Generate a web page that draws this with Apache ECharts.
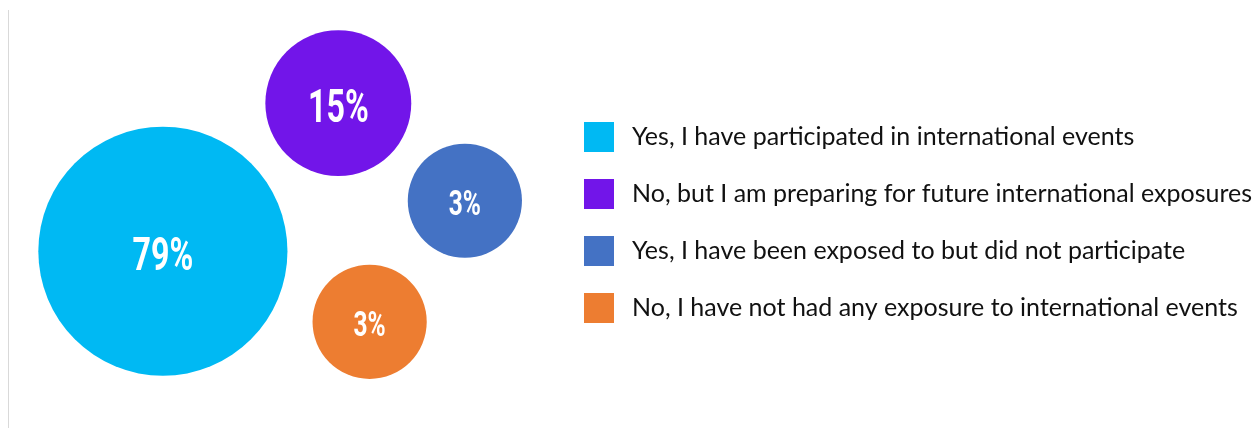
<!DOCTYPE html>
<html>
<head>
<meta charset="utf-8">
<script src="https://cdn.jsdelivr.net/npm/echarts@6/dist/echarts.min.js"></script>
<style>
  html, body { margin: 0; padding: 0; background: #fff; }
  #chart { width: 1253px; height: 428px; }
</style>
</head>
<body>
<div id="chart"></div>
<script>
// categories + values
const categories = [
  'Yes, I have participated in international events',
  'No, but I am preparing for future international exposures',
  'Yes, I have been exposed to but did not participate',
  'No, I have not had any exposure to international events'
]
const percentValues = [79, 15, 3, 3]
const colors = ['#00B9F3', '#7215E9', '#4472C4', '#ED7D31']

// where each bubble sits in the (hidden) layout axes, 0..100 each
const bubbleX = [13.0, 27.0, 37.1, 29.5]
const bubbleY = [41.3, 75.9, 53.1, 24.8]

const chart = echarts.init(document.getElementById('chart'))

// bubble diameter grows with value (not strictly by area in the original)
const bubbleSize = v => 99 + 7.05 * Math.pow(v, 0.7)
const labelSize = v => (v >= 10 ? 46 : 35)

// circle + condensed-looking label (no condensed font installed, so squeeze it)
const renderBubble = (params, api) => {
  const c = api.coord([api.value(0), api.value(1)])
  const v = api.value(2)
  const r = bubbleSize(v) / 2
  const fs = labelSize(v)
  return {
    type: 'group',
    children: [{
      type: 'circle',
      shape: { cx: c[0], cy: c[1], r: r },
      style: { fill: api.visual('color') }
    }, {
      type: 'text',
      x: c[0],
      y: c[1] + fs * 0.15,
      scaleX: 0.7,
      style: {
        text: v + '%',
        fill: '#fff',
        font: 'bold ' + fs + 'px Roboto, sans-serif',
        align: 'center',
        verticalAlign: 'middle'
      }
    }]
  }
}

const series = categories.map((name, i) => ({
  name: name,
  type: 'custom',
  renderItem: renderBubble,
  data: [[bubbleX[i], bubbleY[i], percentValues[i]]],
  itemStyle: { color: colors[i] },
  silent: true
}))

const option = {
  animation: false,
  grid: { left: 0, right: 0, top: 0, bottom: 0 },
  xAxis: { type: 'value', min: 0, max: 100, show: false },
  yAxis: { type: 'value', min: 0, max: 100, show: false },
  legend: {
    orient: 'vertical',
    left: 579,
    top: 117,
    itemWidth: 30,
    itemHeight: 30,
    itemGap: 27,
    icon: 'rect',
    selectedMode: false,
    textStyle: {
      fontFamily: 'Lato, sans-serif',
      fontSize: 25,
      color: '#111',
      padding: [0, 0, 0, 13]
    },
    data: categories
  },
  graphic: [{
    type: 'line',
    shape: { x1: 8.5, y1: 10, x2: 8.5, y2: 428 },
    style: { stroke: '#d9d9d9', lineWidth: 1 }
  }],
  series: series
}

chart.setOption(option)

window.addEventListener('resize', function () {
  chart.resize()
})
</script>
</body>
</html>
